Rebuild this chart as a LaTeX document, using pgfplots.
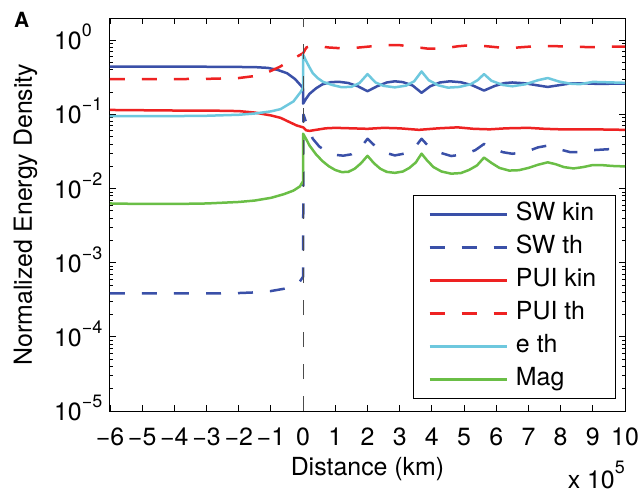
\documentclass[border=0pt]{standalone}
\usepackage{fontspec}
\setmainfont{TeX Gyre Heros}
\usepackage{pgfplots}
\pgfplotsset{compat=1.18}
\usetikzlibrary{calc}

\definecolor{swblue}{RGB}{58,80,168}
\definecolor{puired}{RGB}{238,34,34}
\definecolor{ecyan}{RGB}{110,200,222}
\definecolor{maggreen}{RGB}{106,190,70}

% 10 with a raised exponent, set in the text font; the exponent hangs to the right
\newcommand{\tp}[1]{10\rlap{\raisebox{13bp}{\fontsize{18}{18}\selectfont #1}}}
\newcommand{\lblfont}{\fontsize{25}{28}\selectfont}
\newcommand{\panelfont}{\fontsize{21}{24}\selectfont\bfseries}

\tikzset{
  crv/.style={line width=2.5bp, line join=round, no markers},
  dsh/.style={dash pattern=on 15bp off 17bp},
}

\begin{document}
\begin{tikzpicture}
\begin{axis}[
  width=515bp, height=393bp, scale only axis,
  ymode=log, xmin=-6, xmax=10, ymin=1e-5, ymax=2,
  xtick={-6,...,10},
  xticklabels={−6,−5,−4,−3,−2,−1,0,1,2,3,4,5,6,7,8,9,10},
  ytick={1e-5,1e-4,1e-3,1e-2,1e-1,1},
  yticklabels={\tp{−5},\tp{−4},\tp{−3},\tp{−2},\tp{−1},\tp{0}},
  minor ytick={2e-5,3e-5,4e-5,5e-5,6e-5,7e-5,8e-5,9e-5,
               2e-4,3e-4,4e-4,5e-4,6e-4,7e-4,8e-4,9e-4,
               2e-3,3e-3,4e-3,5e-3,6e-3,7e-3,8e-3,9e-3,
               2e-2,3e-2,4e-2,5e-2,6e-2,7e-2,8e-2,9e-2,
               2e-1,3e-1,4e-1,5e-1,6e-1,7e-1,8e-1,9e-1},
  tick align=inside, major tick length=6bp, minor tick length=3.5bp,
  every tick/.style={black, line width=0.9bp},
  axis line style={line width=1bp},
  tick label style={font=\lblfont, inner sep=0pt},
  xticklabel style={anchor=base, yshift=-34bp},
  yticklabel style={anchor=base east, xshift=-28bp, yshift=-9.5bp},
  legend style={at={(0.5883,0.5496)}, anchor=north west, draw=black,
                line width=1bp, fill=white, font=\lblfont,
                inner xsep=15bp, inner ysep=2.5bp, row sep=0pt, column sep=3.5bp,
                nodes={inner sep=4.5bp, text height=18bp, text depth=6bp}},
  legend cell align=left,
  legend image code/.code={\draw[#1] plot coordinates {(0bp,0bp) (38bp,0bp) (77bp,0bp)};},
]
\coordinate (SW) at (rel axis cs:0,0);
\coordinate (NE) at (rel axis cs:1,1);

\addplot[crv, swblue] coordinates {
  (-6,0.44) (-5,0.44) (-4,0.44) (-3,0.44) (-2,0.437) (-1.5,0.435) (-1.1,0.425)
  (-0.8,0.40) (-0.5,0.36) (-0.25,0.30) (-0.05,0.24) (0,0.22) (0,0.14)
  (0.1,0.165) (0.2,0.19) (0.4,0.225) (0.6,0.255) (0.85,0.272) (1.1,0.276)
  (1.4,0.266) (1.7,0.24) (2.0,0.206) (2.3,0.24) (2.6,0.27) (2.85,0.28)
  (3.1,0.273) (3.4,0.246) (3.68,0.196) (3.95,0.24) (4.25,0.27) (4.56,0.28)
  (4.9,0.272) (5.25,0.248) (5.62,0.21) (5.95,0.242) (6.25,0.265) (6.5,0.27)
  (6.9,0.263) (7.2,0.25) (7.6,0.235) (7.95,0.248) (8.3,0.262) (8.7,0.263)
  (9.2,0.258) (9.6,0.26) (10,0.26)};
\addlegendentry{SW kin}

\addplot[crv, swblue, dsh] coordinates {
  (-6,3.85e-4) (-4,3.85e-4) (-3,3.85e-4) (-2,3.9e-4) (-1.5,3.98e-4)
  (-1,4.15e-4) (-0.6,4.45e-4) (-0.3,4.9e-4) (-0.1,5.6e-4) (0,6.5e-4)
  (0.01,0.1) (0.15,0.066) (0.3,0.047) (0.5,0.037) (0.75,0.031) (1.0,0.0285)
  (1.25,0.0278) (1.5,0.029) (1.75,0.034) (2.0,0.047) (2.25,0.037) (2.5,0.031)
  (2.85,0.028) (3.2,0.03) (3.45,0.035) (3.68,0.047) (3.9,0.037) (4.2,0.031)
  (4.6,0.0275) (5.0,0.029) (5.35,0.033) (5.62,0.04) (5.9,0.035) (6.2,0.031)
  (6.5,0.0295) (6.9,0.031) (7.3,0.036) (7.6,0.038) (7.95,0.034) (8.3,0.031)
  (8.6,0.031) (9.0,0.033) (9.5,0.034) (10,0.034)};
\addlegendentry{SW th}

\addplot[crv, puired] coordinates {
  (-6,0.115) (-5,0.114) (-4,0.113) (-3,0.113) (-2,0.111) (-1.5,0.106)
  (-1,0.097) (-0.7,0.09) (-0.4,0.078) (-0.2,0.071) (0,0.067) (0.1,0.061)
  (0.2,0.06) (0.4,0.062) (0.7,0.065) (1.0,0.066) (1.5,0.065) (2,0.064)
  (2.5,0.066) (3,0.065) (3.6,0.062) (4.2,0.065) (4.8,0.067) (5.3,0.064)
  (5.8,0.063) (6.3,0.065) (7,0.066) (7.5,0.064) (8,0.063) (9,0.063) (10,0.062)};
\addlegendentry{PUI kin}

\addplot[crv, puired, dsh] coordinates {
  (-6,0.30) (-4,0.30) (-3,0.302) (-2,0.31) (-1.5,0.33) (-1.1,0.37)
  (-0.72,0.44) (-0.45,0.52) (-0.2,0.6) (0,0.67) (0.1,0.8) (0.25,0.845)
  (0.5,0.83) (0.8,0.8) (1.2,0.78) (1.6,0.79) (2,0.82) (2.5,0.86) (3,0.86)
  (3.4,0.82) (3.9,0.77) (4.3,0.77) (4.8,0.83) (5.2,0.86) (5.6,0.84)
  (6.1,0.8) (6.5,0.79) (7,0.82) (7.5,0.84) (8,0.83) (8.5,0.815) (9,0.81)
  (9.5,0.82) (10,0.82)};
\addlegendentry{PUI th}

\addplot[crv, ecyan] coordinates {
  (-6,0.095) (-4,0.095) (-3,0.096) (-2,0.099) (-1.5,0.103) (-1,0.11)
  (-0.7,0.118) (-0.3,0.15) (-0.08,0.2) (0,0.23) (0,0.64) (0.1,0.52)
  (0.2,0.43) (0.3,0.36) (0.45,0.31) (0.62,0.275) (0.9,0.25) (1.2,0.233)
  (1.5,0.236) (1.75,0.265) (2.0,0.35) (2.25,0.27) (2.5,0.243) (2.85,0.232)
  (3.2,0.245) (3.45,0.28) (3.68,0.38) (3.9,0.29) (4.2,0.247) (4.5,0.23)
  (4.85,0.235) (5.2,0.255) (5.42,0.29) (5.62,0.35) (5.85,0.285) (6.2,0.25)
  (6.5,0.24) (6.9,0.255) (7.3,0.29) (7.6,0.31) (7.95,0.278) (8.3,0.26)
  (8.6,0.256) (9.0,0.275) (9.4,0.272) (10,0.267)};
\addlegendentry{e th}

\addplot[crv, maggreen] coordinates {
  (-6,0.0063) (-5,0.0062) (-4,0.0062) (-3,0.0063) (-2,0.0066) (-1.5,0.0069)
  (-1,0.0075) (-0.6,0.0084) (-0.3,0.0094) (-0.1,0.0107) (0,0.0126) (0,0.055)
  (0.1,0.046) (0.2,0.038) (0.4,0.029) (0.6,0.0235) (0.8,0.02) (1.0,0.0178)
  (1.2,0.0167) (1.4,0.0168) (1.6,0.0185) (1.8,0.022) (2.0,0.0277) (2.2,0.022)
  (2.4,0.0185) (2.6,0.0168) (2.85,0.0163) (3.1,0.017) (3.3,0.019) (3.5,0.0225)
  (3.68,0.0296) (3.85,0.024) (4.05,0.0195) (4.3,0.017) (4.6,0.0159)
  (4.9,0.0162) (5.15,0.0178) (5.4,0.0205) (5.62,0.0262) (5.85,0.0222)
  (6.1,0.019) (6.4,0.0175) (6.7,0.0177) (7.0,0.019) (7.3,0.021) (7.6,0.0226)
  (7.85,0.0213) (8.1,0.0195) (8.4,0.0187) (8.7,0.0195) (9.0,0.0208)
  (9.3,0.0207) (9.6,0.0202) (10,0.0199)};
\addlegendentry{Mag}

% shock position
\addplot[forget plot, black!70, line width=1bp, dsh] coordinates {(0,1e-5) (0,2)};
\end{axis}

\node[rotate=90, anchor=base, font=\lblfont] at ($(SW)!0.5!(SW|-NE)+(-78bp,0)$) {Normalized Energy Density};
\node[anchor=base, font=\lblfont] at ($(SW)!0.5!(SW-|NE)+(0,-64bp)$) {Distance (km)};
\node[anchor=base east, font=\lblfont, inner sep=0pt] at ($(SW-|NE)+(0,-77bp)$) {x 10\raisebox{15bp}{\fontsize{18}{18}\selectfont 5}};
\node[anchor=base west, font=\panelfont, inner sep=0pt] at ($(SW|-NE)+(-96bp,-10bp)$) {A};

\pgfresetboundingbox
\path[use as bounding box] ($(SW)+(-110bp,-84bp)$) rectangle ($(NE)+(17bp,18bp)$);
\end{tikzpicture}
\end{document}
